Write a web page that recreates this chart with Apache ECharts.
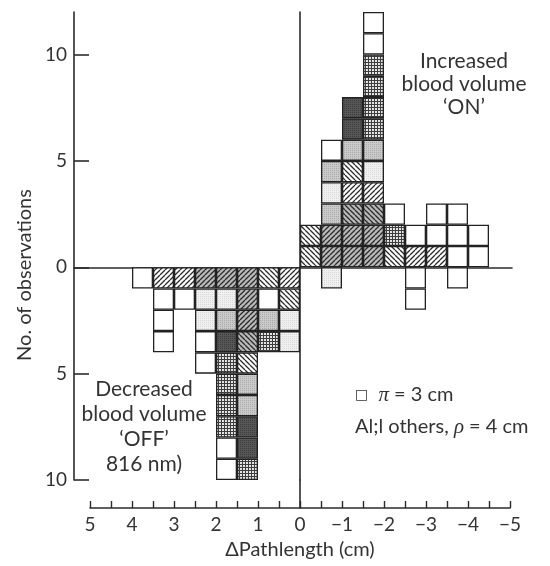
<!DOCTYPE html>
<html>
<head>
<meta charset="utf-8">
<title>ΔPathlength histogram</title>
<script src="https://cdn.jsdelivr.net/npm/echarts@6.0.0/dist/echarts.min.js"></script>
<style>
  html, body { margin: 0; padding: 0; background: #fff; }
  #chart { width: 550px; height: 566px; }
</style>
</head>
<body>
<div id="chart"></div>
<script>
// bin centres on the ΔPathlength axis (cm), bins are 0.5 cm wide
const binCentres = [3.75, 3.25, 2.75, 2.25, 1.75, 1.25, 0.75, 0.25,
  -0.25, -0.75, -1.25, -1.75, -2.25, -2.75, -3.25, -3.75, -4.25]

// one letter per observation, from the zero line outwards
// W plain, L light, G grey, D dark, X check, F '///', B '\\\', H '///' on grey, K '\\\' on grey
const increasedOn = ['', '', '', '', '', '', '', '',
  'BB', 'HHGLGW', 'HHKFBGDD', 'HHKFLGXXXXWW', 'BXW', 'FW', 'FWW', 'WWW', 'WW']
const decreasedOff = ['W', 'FWWW', 'FW', 'HLLWW', 'HLGDXXXXWW', 'HHHKBGGDDX', 'BWGX', 'FBLL',
  '', 'L', '', '', '', 'WW', '', 'W', '']

const yTicks = [-10, -5, 0, 5, 10]

const ink = '#2b2b2b'
const font = 'Lato'

function tile (size, bg, draw) {
  const c = document.createElement('canvas')
  c.width = c.height = size
  const ctx = c.getContext('2d')
  ctx.fillStyle = bg
  ctx.fillRect(0, 0, size, size)
  if (draw) draw(ctx, size)
  return { image: c, repeat: 'repeat' }
}
function hatch (dir, bg) {
  return tile(5, bg, (ctx, s) => {
    ctx.strokeStyle = ink
    ctx.lineWidth = 1.3
    ctx.beginPath()
    for (let k = -1; k <= 1; k++) {
      if (dir > 0) { ctx.moveTo(k * s, s); ctx.lineTo(k * s + s, 0) } else { ctx.moveTo(k * s, 0); ctx.lineTo(k * s + s, s) }
    }
    ctx.stroke()
  })
}
function dots (bg, dot) {
  return tile(2, bg, ctx => { ctx.fillStyle = dot; ctx.fillRect(0, 0, 1, 1) })
}
const fills = {
  W: '#ffffff',
  L: dots('#f0f0f0', '#d9d9d9'),
  G: dots('#cacaca', '#a9a9a9'),
  D: dots('#575757', '#3c3c3c'),
  X: tile(3, '#3e3e3e', ctx => { ctx.fillStyle = '#e4e4e4'; ctx.fillRect(0, 0, 2, 2) }),
  F: hatch(1, '#ffffff'),
  B: hatch(-1, '#ffffff'),
  H: hatch(1, '#b9b9b9'),
  K: hatch(-1, '#b9b9b9')
}

// one bar series per layer of cells, all in one stack
function layers (cells, sign, name) {
  const depth = Math.max(...cells.map(s => s.length))
  const out = []
  for (let k = 0; k < depth; k++) {
    out.push({
      type: 'bar',
      name: name,
      stack: 'obs',
      xAxisIndex: 2,
      yAxisIndex: 2,
      barWidth: 21,
      silent: true,
      itemStyle: { borderColor: '#222', borderWidth: 1.3 },
      data: cells.map(s => {
        const code = s[k]
        return code ? { value: sign, itemStyle: { color: fills[code] } } : '-'
      })
    })
  }
  return out
}

const axisLine = { show: true, lineStyle: { color: ink, width: 1.6 } }
const hidden = {
  axisLine: { show: false },
  axisTick: { show: false },
  axisLabel: { show: false },
  splitLine: { show: false }
}

const option = {
  animation: false,
  textStyle: { fontFamily: font, color: '#333' },
  grid: [
    // frame: zero line and vertical line at 0
    { left: 74, right: 38, top: 12, bottom: 86, outerBoundsMode: 'none' },
    // bottom ΔPathlength scale
    { left: 90, right: 40, top: 480, bottom: 58, outerBoundsMode: 'none' },
    // histogram cells, one 0.5 cm bin per category
    { left: 132, right: 61, top: 12, bottom: 86, outerBoundsMode: 'none' }
  ],
  xAxis: [
    {
      gridIndex: 0,
      type: 'value',
      inverse: true,
      min: -5.05,
      max: 5.38,
      axisLine: Object.assign({ onZero: true }, axisLine),
      axisTick: { show: false },
      axisLabel: { show: false },
      splitLine: { show: false }
    },
    {
      gridIndex: 1,
      type: 'value',
      inverse: true,
      min: -5,
      max: 5,
      interval: 1,
      position: 'bottom',
      axisLine: Object.assign({ onZero: false }, axisLine),
      axisTick: { show: true, inside: true, length: 7, lineStyle: { color: ink, width: 1.4 } },
      minorTick: { show: true, splitNumber: 2, length: 7, lineStyle: { color: ink, width: 1.4 } },
      axisLabel: {
        margin: 7,
        fontSize: 19,
        color: '#333',
        formatter: v => (v < 0 ? '\u2212' + (-v) : String(v))
      },
      splitLine: { show: false },
      name: '\u0394Pathlength (cm)',
      nameLocation: 'middle',
      nameGap: 32,
      nameTextStyle: { fontSize: 20, color: '#333' }
    },
    Object.assign({
      gridIndex: 2,
      type: 'category',
      data: binCentres.map(String)
    }, hidden)
  ],
  yAxis: [
    {
      gridIndex: 0,
      type: 'value',
      min: -10,
      max: 12,
      axisLine: Object.assign({ onZero: true }, axisLine),
      axisTick: { show: false },
      axisLabel: { show: false },
      splitLine: { show: false }
    },
    {
      gridIndex: 1,
      type: 'value',
      min: 0,
      max: 1,
      axisLine: Object.assign({ onZero: true }, axisLine),
      axisTick: { show: false },
      axisLabel: { show: false },
      splitLine: { show: false }
    },
    {
      gridIndex: 2,
      type: 'value',
      min: -10,
      max: 12,
      position: 'left',
      offset: 58,
      axisLine: Object.assign({ onZero: false }, axisLine),
      axisTick: { show: true, inside: true, length: 15, customValues: yTicks, lineStyle: { color: ink, width: 1.6 } },
      axisLabel: {
        margin: 7,
        fontSize: 19,
        color: '#333',
        customValues: yTicks,
        formatter: v => String(Math.abs(v))
      },
      splitLine: { show: false },
      name: 'No. of observations',
      nameLocation: 'middle',
      nameGap: 36,
      nameTextStyle: { fontSize: 20, color: '#333', padding: [0, 58, 0, 0] }
    }
  ],
  graphic: [
    {
      type: 'text',
      x: 464,
      y: 50,
      style: {
        text: 'Increased\nblood volume\n\u2018ON\u2019',
        fontSize: 21,
        fontFamily: font,
        lineHeight: 23,
        fill: '#333',
        align: 'center',
        textAlign: 'center',
        verticalAlign: 'top',
        textVerticalAlign: 'top'
      }
    },
    {
      type: 'text',
      x: 144,
      y: 377,
      style: {
        text: 'Decreased\nblood volume\n\u2018OFF\u2019\n816 nm)',
        fontSize: 21,
        fontFamily: font,
        lineHeight: 25,
        fill: '#333',
        align: 'center',
        textAlign: 'center',
        verticalAlign: 'top',
        textVerticalAlign: 'top'
      }
    },
    {
      type: 'text',
      x: 355,
      y: 395,
      style: {
        text: '{box|\u25a1}  {gr|\u03c0} = 3 cm',
        fontSize: 20,
        fontFamily: font,
        fill: '#333',
        align: 'left',
        textAlign: 'left',
        verticalAlign: 'middle',
        textVerticalAlign: 'middle',
        rich: {
          box: { fontSize: 14, fontFamily: 'DejaVu Sans', fill: '#333' },
          gr: { fontSize: 21, fontFamily: 'Liberation Serif', fontStyle: 'italic', fill: '#333' }
        }
      }
    },
    {
      type: 'text',
      x: 355,
      y: 427,
      style: {
        text: 'Al;l others, {gr|\u03c1} = 4 cm',
        fontSize: 20,
        fontFamily: font,
        fill: '#333',
        align: 'left',
        textAlign: 'left',
        verticalAlign: 'middle',
        textVerticalAlign: 'middle',
        rich: {
          gr: { fontSize: 21, fontFamily: 'Liberation Serif', fontStyle: 'italic', fill: '#333' }
        }
      }
    }
  ],
  series: layers(increasedOn, 1, 'Increased blood volume').concat(layers(decreasedOff, -1, 'Decreased blood volume'))
}

const chart = echarts.init(document.getElementById('chart'))
chart.setOption(option)
window.addEventListener('resize', () => chart.resize())
</script>
</body>
</html>
